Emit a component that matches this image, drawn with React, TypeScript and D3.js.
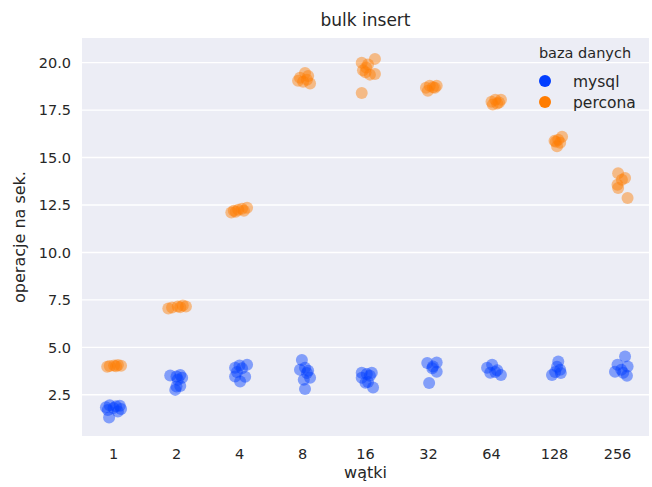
import React from "react";
import * as d3 from "d3";

const threads = ["1", "2", "4", "8", "16", "32", "64", "128", "256"];
const yTicks = [2.5, 5.0, 7.5, 10.0, 12.5, 15.0, 17.5, 20.0];

const mysqlValues: number[][] = [
  [1.85, 1.95, 1.9, 1.92, 1.75, 1.62, 1.7, 1.3, 1.8],
  [3.52, 3.55, 3.46, 2.94, 2.76, 2.97, 3.4, 3.29],
  [3.92, 4.08, 4.05, 3.46, 3.45, 3.2, 3.7, 3.9],
  [4.34, 3.82, 3.92, 3.65, 3.4, 3.29, 2.81, 3.77],
  [3.66, 3.66, 3.6, 3.13, 2.88, 3.5, 3.4, 3.18],
  [4.18, 4.2, 3.99, 3.71, 3.12, 3.9],
  [4.08, 3.92, 3.7, 3.55, 3.66, 3.8],
  [4.25, 3.55, 3.82, 3.7, 3.65, 3.98],
  [4.52, 4.08, 3.99, 3.82, 3.5, 3.71, 3.66],
];
const mysqlJitter: number[][] = [
  [-0.12, -0.06, 0.04, 0.1, 0.12, 0.07, -0.09, -0.07, 0.0],
  [-0.1, 0.06, 0.0, 0.0, -0.02, 0.06, 0.09, 0.02],
  [-0.07, 0.12, 0.0, -0.07, 0.09, 0.01, -0.04, 0.04],
  [-0.01, -0.04, 0.04, 0.07, 0.12, 0.02, 0.04, 0.09],
  [-0.06, 0.1, 0.02, 0.0, 0.12, 0.07, -0.06, 0.04],
  [-0.02, 0.13, 0.07, 0.13, 0.01, 0.06],
  [0.01, -0.07, 0.06, 0.15, -0.02, 0.09],
  [0.06, -0.04, 0.09, 0.01, 0.1, 0.04],
  [0.12, 0.0, 0.16, 0.06, 0.15, -0.04, 0.09],
];

const perconaValues: number[][] = [
  [3.98, 4.02, 4.05, 4.07, 4.03, 4.0],
  [7.05, 7.1, 7.15, 7.2, 7.15, 7.12],
  [12.1, 12.2, 12.25, 12.3, 12.35, 12.2, 12.15],
  [19.05, 19.45, 18.9, 19.1, 19.0, 19.2, 19.3],
  [20.0, 20.2, 19.74, 19.37, 19.4, 18.4, 19.5, 19.9, 19.6],
  [18.68, 18.78, 18.68, 18.78, 18.52, 18.7],
  [17.94, 18.05, 17.9, 18.05, 17.79, 17.85],
  [15.83, 15.94, 16.1, 15.78, 15.6, 15.88],
  [14.18, 13.92, 13.57, 13.4, 12.87, 13.83],
];
const perconaJitter: number[][] = [
  [-0.1, -0.06, 0.01, 0.07, 0.12, 0.04],
  [-0.13, -0.07, 0.02, 0.1, 0.15, 0.06],
  [-0.13, -0.09, -0.02, 0.04, 0.12, 0.07, -0.06],
  [-0.07, 0.04, 0.12, 0.07, 0.01, -0.04, 0.09],
  [-0.06, 0.15, 0.01, 0.07, 0.15, -0.06, 0.0, 0.04, -0.04],
  [-0.04, 0.02, 0.1, 0.13, -0.01, 0.07],
  [0.0, 0.06, 0.12, 0.15, 0.02, 0.09],
  [0.02, 0.06, 0.12, 0.09, 0.04, 0.0],
  [0.01, 0.12, 0.0, 0.01, 0.16, 0.07],
];

const seriesNames = ["mysql", "percona"];
const seriesColors = ["#023EFF", "#FF7C00"];

const W = 652;
const H = 487;
const M = { left: 82, right: 3, top: 38, bottom: 51 };
const FONT = "DejaVu Sans, sans-serif";
const TEXT = "#262626";

export default function App() {
  const x = d3
    .scaleBand<string>()
    .domain(threads)
    .range([M.left, W - M.right])
    .paddingInner(0)
    .paddingOuter(0);
  const y = d3.scaleLinear().domain([0.33, 21.3]).range([H - M.bottom, M.top]);
  const bw = x.bandwidth();

  const allSeries = [
    { vals: mysqlValues, jit: mysqlJitter, color: seriesColors[0] },
    { vals: perconaValues, jit: perconaJitter, color: seriesColors[1] },
  ];

  return (
    <svg
      width={W}
      height={H}
      style={{ position: "absolute", left: 0, top: 0, fontFamily: FONT }}
    >
      <rect x={0} y={0} width={W} height={H} fill="#ffffff" />
      <rect
        x={M.left}
        y={M.top}
        width={W - M.left - M.right}
        height={H - M.top - M.bottom}
        fill="#ECEDF5"
      />
      {yTicks.map((t) => (
        <g key={t}>
          <line
            x1={M.left}
            x2={W - M.right}
            y1={y(t)}
            y2={y(t)}
            stroke="#ffffff"
            strokeWidth={1.4}
          />
          <text
            x={M.left - 11}
            y={y(t)}
            dy="0.36em"
            textAnchor="end"
            fontSize={14.5}
            fill={TEXT}
          >
            {t.toFixed(1)}
          </text>
        </g>
      ))}
      {threads.map((c) => (
        <text
          key={c}
          x={(x(c) as number) + bw / 2}
          y={H - M.bottom + 23}
          textAnchor="middle"
          fontSize={14.5}
          fill={TEXT}
        >
          {c}
        </text>
      ))}
      {allSeries.map((s, si) =>
        threads.map((c, ci) =>
          s.vals[ci].map((v, k) => (
            <circle
              key={`${si}-${ci}-${k}`}
              cx={(x(c) as number) + bw / 2 + s.jit[ci][k] * bw}
              cy={y(v)}
              r={6}
              fill={s.color}
              fillOpacity={0.45}
            />
          ))
        )
      )}
      <text
        x={(M.left + W - M.right) / 2}
        y={26}
        textAnchor="middle"
        fontSize={17}
        fill={TEXT}
      >
        bulk insert
      </text>
      <text
        x={(M.left + W - M.right) / 2}
        y={H - 9}
        textAnchor="middle"
        fontSize={16}
        fill={TEXT}
      >
        wątki
      </text>
      <text
        transform={`translate(25,${(M.top + H - M.bottom) / 2}) rotate(-90)`}
        textAnchor="middle"
        fontSize={16}
        fill={TEXT}
      >
        operacje na sek.
      </text>
      <g>
        <text x={585} y={58} textAnchor="middle" fontSize={14.5} fill={TEXT}>
          baza danych
        </text>
        {seriesNames.map((n, i) => (
          <g key={n}>
            <circle cx={545} cy={81 + i * 21} r={6} fill={seriesColors[i]} />
            <text x={573} y={81 + i * 21} dy="0.36em" fontSize={15.5} fill={TEXT}>
              {n}
            </text>
          </g>
        ))}
      </g>
    </svg>
  );
}
